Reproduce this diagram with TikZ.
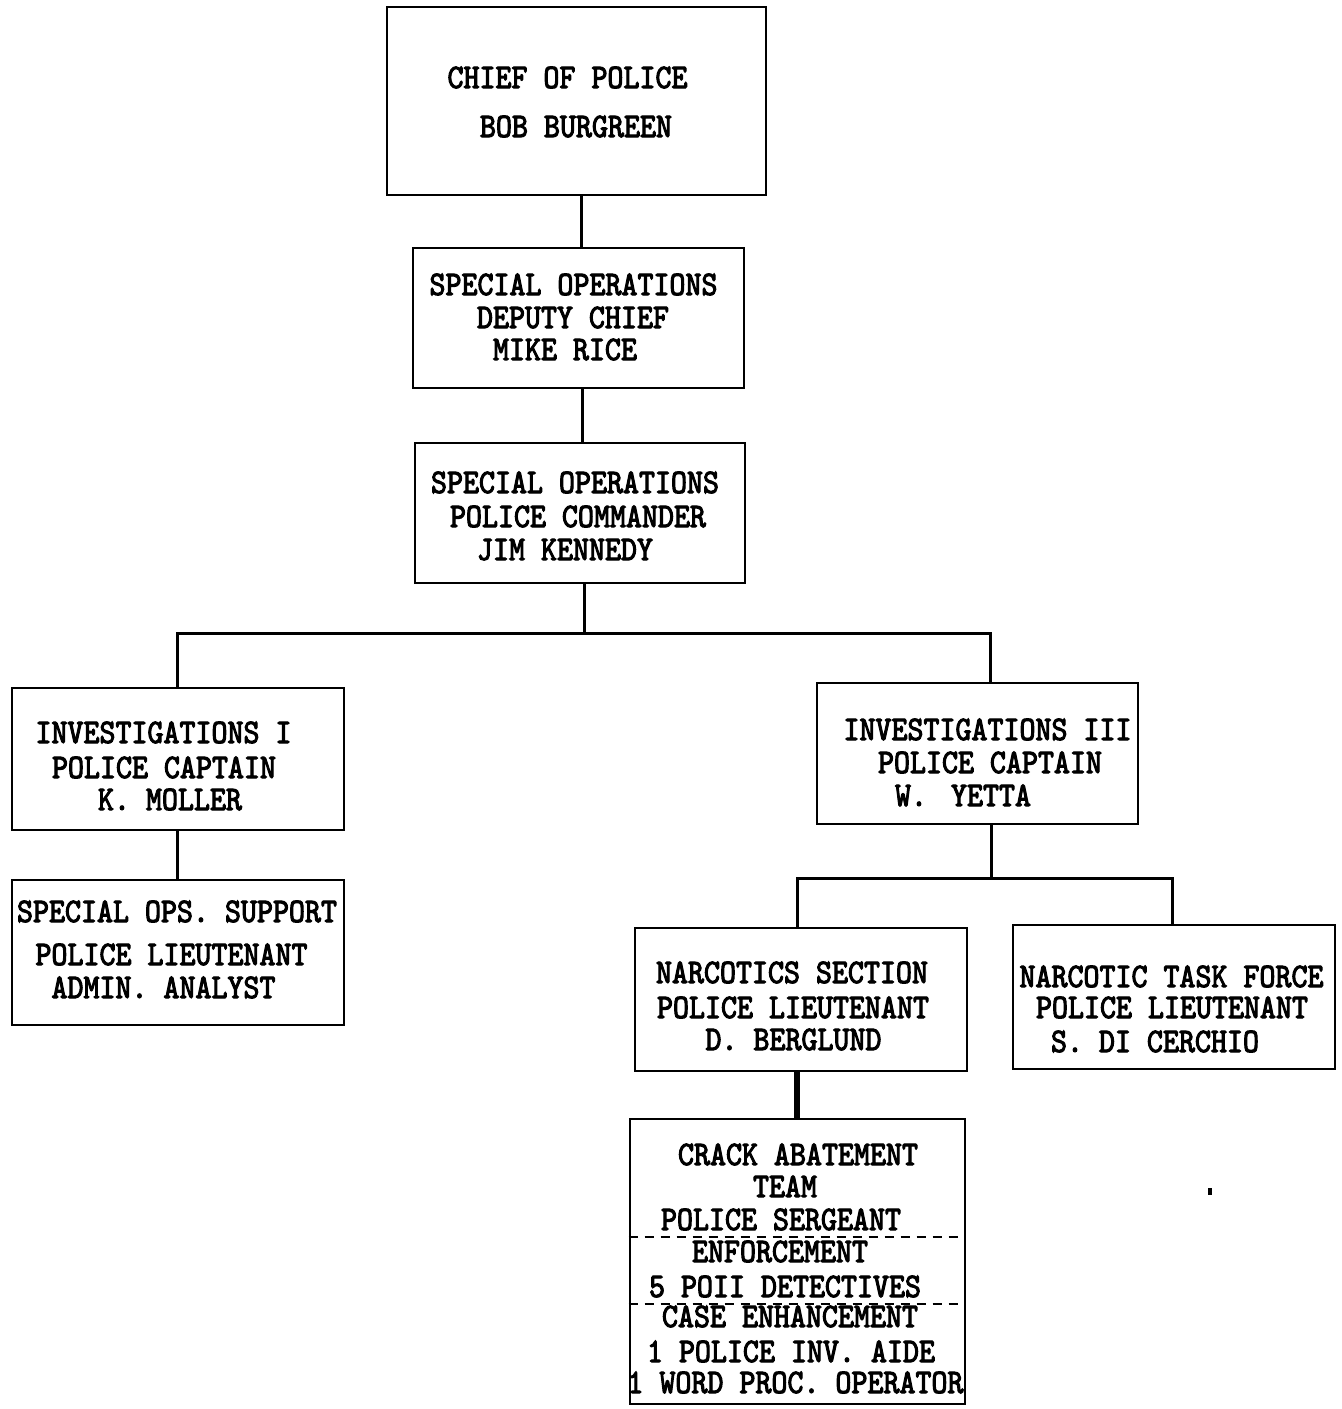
\documentclass[tikz,border=0pt]{standalone}
\usepackage{fontspec}
\newfontfamily\tw{lmmono10-regular.otf}[FakeStretch=0.886,FakeBold=3]
\usetikzlibrary{fit}
\begin{document}
\begin{tikzpicture}[x=0.5pt,y=-0.5pt,
  box/.style={draw, line width=1.4pt, inner sep=0pt, rectangle},
  txt/.style={anchor=base, inner sep=0pt, font=\tw\fontsize{17.2}{20}\selectfont},
  link/.style={line width=1.5pt},
  thicklink/.style={line width=3pt},
  sep/.style={line width=1.3pt, dash pattern=on 4.5pt off 3.5pt}]
\useasboundingbox (0,0) rectangle (1342,1409);

% boxes
\node[box, fit={(387,7) (766,195)}] (chief) {};
\node[box, fit={(413,248) (744,388)}] (deputy) {};
\node[box, fit={(415,443) (745,583)}] (cmdr) {};
\node[box, fit={(12,688) (344,830)}] (inv1) {};
\node[box, fit={(817,683) (1138,824)}] (inv3) {};
\node[box, fit={(12,880) (344,1025)}] (sos) {};
\node[box, fit={(635,928) (967,1071)}] (narc) {};
\node[box, fit={(1013,925) (1335,1069)}] (ntf) {};
\node[box, fit={(630,1119) (965,1404)}] (crack) {};

% connectors
\draw[link] (chief.south -| 581,0) -- (deputy.north -| 581,0);
\draw[link] (deputy.south -| 582,0) -- (cmdr.north -| 582,0);
\coordinate (busA) at (584,633);
\coordinate (busAl) at (177,633);
\coordinate (busAr) at (990,633);
\draw[link] (cmdr.south -| busA) -- (busA);
\draw[link] (inv1.north -| busAl) -- (busAl) -- (busAr) -- (inv3.north -| busAr);
\draw[link] (inv1.south -| 177,0) -- (sos.north -| 177,0);
\coordinate (busB) at (991,878);
\coordinate (busBl) at (797,878);
\coordinate (busBr) at (1172,878);
\draw[link] (inv3.south -| busB) -- (busB);
\draw[link] (narc.north -| busBl) -- (busBl) -- (busBr) -- (ntf.north -| busBr);
\draw[thicklink] (narc.south -| 797,0) -- (crack.north -| 797,0);

% dashed separators in crack box
\draw[sep] (crack.west |- 0,1237) -- (crack.east |- 0,1237);
\draw[sep] (crack.west |- 0,1304) -- (crack.east |- 0,1304);

% small speck
\fill (1208,1188) rectangle (1212,1195);

% texts
\node[txt] (c1) at (567.5,88) {CHIEF OF POLICE};
\node[txt] (c2) at (576,137) {BOB BURGREEN};

\node[txt] (d1) at (573.5,295) {SPECIAL OPERATIONS};
\node[txt] (d2) at (573,328) {DEPUTY CHIEF};
\node[txt] (d3) at (565,360) {MIKE RICE};

\node[txt] (m1) at (575,493) {SPECIAL OPERATIONS};
\node[txt] (m2) at (578,527) {POLICE COMMANDER};
\node[txt] (m3) at (565,560) {JIM KENNEDY};

\node[txt] (i1) at (163.5,743) {INVESTIGATIONS I};
\node[txt] (i2) at (164,778) {POLICE CAPTAIN};
\node[txt] (i3) at (170,810) {K. MOLLER};

\node[txt] (j1) at (987.5,740) {INVESTIGATIONS III};
\node[txt] (j2) at (990,773) {POLICE CAPTAIN};
\node[txt] (j3) at (963,806) {W.\hspace{4pt} YETTA};

\node[txt] (s1) at (177,922) {SPECIAL OPS. SUPPORT};
\node[txt] (s2) at (171.5,965) {POLICE LIEUTENANT};
\node[txt] (s3) at (163.5,998) {ADMIN. ANALYST};

\node[txt] (n1) at (792,983) {NARCOTICS SECTION};
\node[txt] (n2) at (793,1018) {POLICE LIEUTENANT};
\node[txt] (n3) at (793.5,1050) {D. BERGLUND};

\node[txt] (t1) at (1171.5,987) {NARCOTIC TASK FORCE};
\node[txt] (t2) at (1172,1018) {POLICE LIEUTENANT};
\node[txt] (t3) at (1155,1052) {S. DI CERCHIO};

\node[txt] (k1) at (798,1165) {CRACK ABATEMENT};
\node[txt] (k2) at (785,1197) {TEAM};
\node[txt] (k3) at (781,1230) {POLICE SERGEANT};
\node[txt] (k4) at (780,1262) {ENFORCEMENT};
\node[txt] (k5) at (785,1297) {5 POII DETECTIVES};
\node[txt] (k6) at (790,1327) {CASE ENHANCEMENT};
\node[txt] (k7) at (791,1362) {1 POLICE INV. AIDE};
\node[txt] (k8) at (795.5,1393) {1 WORD PROC. OPERATOR};
\end{tikzpicture}
\end{document}
